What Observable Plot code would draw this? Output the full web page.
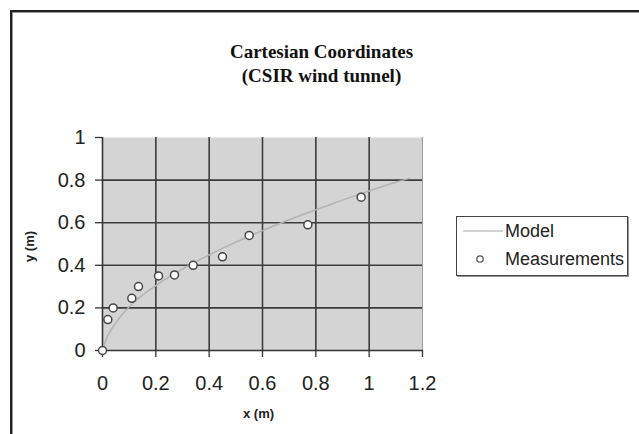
<!DOCTYPE html>
<html>
<head>
<meta charset="utf-8">
<script src="https://cdn.jsdelivr.net/npm/d3@7"></script>
<script src="https://cdn.jsdelivr.net/npm/@observablehq/plot@0.6"></script>
<style>
  html, body { margin: 0; padding: 0; background: #fff; }
  #wrap { position: relative; width: 639px; height: 434px; overflow: hidden; background: #fff; }
  #border { position: absolute; left: 10px; top: 10px; width: 700px; height: 500px;
            border-left: 2px solid #222; border-top: 2px solid #222;
            box-shadow: inset 1px 1px 0 #999; }
  .title { position: absolute; left: 0; width: 643px; text-align: center;
           font-family: "Liberation Serif", "Times New Roman", serif; font-weight: bold;
           font-size: 19px; color: #111; line-height: 22px; }
  .axt { position: absolute; font-family: "Liberation Sans", Arial, sans-serif; font-weight: bold;
         font-size: 13px; color: #222; white-space: nowrap; }
  #legend { position: absolute; left: 456px; top: 216px; width: 170px; height: 58px;
            border: 1px solid #444; box-shadow: 1px 1px 0 #999; background: #fff;
            font-family: "Liberation Sans", Arial, sans-serif; font-size: 18px; color: #222; }
  #legend .row { position: absolute; left: 0; height: 22px; width: 170px; }
  #legend .lab { position: absolute; left: 48px; top: 0; line-height: 22px; }
  #plot { position: absolute; left: 0; top: 0; }
</style>
</head>
<body>
<div id="wrap">
  <div id="border"></div>
  <div id="plot"></div>
  <div class="title" style="top:41px">Cartesian Coordinates</div>
  <div class="title" style="top:65px">(CSIR wind tunnel)</div>
  <div class="axt" id="xt" style="left:243px; top:406px">x (m)</div>
  <div class="axt" id="yt" style="left:14px; top:239px; transform: rotate(-90deg); transform-origin: 50% 50%;">y (m)</div>
  <div id="legend">
    <div class="row" style="top:3px">
      <svg width="48" height="22" style="position:absolute;left:0;top:0"><line x1="6" x2="46" y1="11" y2="11" stroke="#c4c4c4" stroke-width="1.5"/></svg>
      <span class="lab">Model</span>
    </div>
    <div class="row" style="top:31px">
      <svg width="48" height="22" style="position:absolute;left:0;top:0"><circle cx="23" cy="11" r="3.2" fill="#fff" stroke="#555" stroke-width="1.3"/></svg>
      <span class="lab">Measurements</span>
    </div>
  </div>
</div>
<script>
// ---- data ----
const measX = [0, 0.02, 0.04, 0.11, 0.135, 0.21, 0.27, 0.34, 0.45, 0.55, 0.77, 0.97];
const measY = [0, 0.145, 0.20, 0.245, 0.30, 0.35, 0.355, 0.40, 0.44, 0.54, 0.59, 0.72];

const modelX = [0, 0.01, 0.02, 0.05, 0.1, 0.15, 0.2, 0.3, 0.4, 0.5, 0.6, 0.7, 0.8, 0.9, 1.0, 1.1, 1.15];
const modelY = [0, 0.04, 0.07, 0.13, 0.205, 0.26, 0.305, 0.383, 0.449, 0.509, 0.563, 0.614, 0.661, 0.706, 0.749, 0.79, 0.808];

const xTicks = [0, 0.2, 0.4, 0.6, 0.8, 1, 1.2];
const xTickLabels = ["0", "0.2", "0.4", "0.6", "0.8", "1", "1.2"];
const yTicks = [0, 0.2, 0.4, 0.6, 0.8, 1];
const yTickLabels = ["0", "0.2", "0.4", "0.6", "0.8", "1"];

// ---- build ----
const measurements = measX.map((x, i) => ({x, y: measY[i]}));
const model = modelX.map((x, i) => ({x, y: modelY[i]}));
const xLab = new Map(xTicks.map((t, i) => [t, xTickLabels[i]]));
const yLab = new Map(yTicks.map((t, i) => [t, yTickLabels[i]]));
const xMax = xTicks[xTicks.length - 1];
const yMax = yTicks[yTicks.length - 1];
const xGrid = xTicks.filter(t => t > 0 && t < xMax);
const yGrid = yTicks.filter(t => t > 0 && t < yMax);

const chart = Plot.plot({
  width: 639,
  height: 434,
  marginLeft: 102,
  marginRight: 217,
  marginTop: 137,
  marginBottom: 84,
  x: {domain: [0, xMax]},
  y: {domain: [0, yMax]},
  style: {fontFamily: "Liberation Sans, Arial, sans-serif", fontSize: "20px", color: "#222", background: "transparent", overflow: "visible"},
  marks: [
    Plot.frame({fill: "#d4d4d4", stroke: "none"}),
    Plot.ruleX(xGrid, {stroke: "#3c3c3c", strokeWidth: 1.6}),
    Plot.ruleY(yGrid, {stroke: "#3c3c3c", strokeWidth: 1.6}),
    Plot.ruleX([xMax], {stroke: "#9a9a9a", strokeWidth: 1}),
    Plot.ruleX([0], {stroke: "#333", strokeWidth: 1.6}),
    Plot.ruleY([0], {stroke: "#333", strokeWidth: 1.6}),
    Plot.axisX(xTicks, {tickFormat: d => xLab.get(d), tickSize: 7, tickPadding: 18, label: null, stroke: "#333", strokeWidth: 1.3, fill: "#222"}),
    Plot.axisY(yTicks, {tickFormat: d => yLab.get(d), tickSize: 7, tickPadding: 10, label: null, stroke: "#333", strokeWidth: 1.3, fill: "#222"}),
    Plot.line(model, {x: "x", y: "y", stroke: "#b2b2b2", strokeWidth: 1.5, curve: "monotone-x"}),
    Plot.dot(measurements, {x: "x", y: "y", r: 4, fill: "white", stroke: "#444", strokeWidth: 1.5})
  ]
});
document.getElementById("plot").appendChild(chart);
</script>
</body>
</html>
